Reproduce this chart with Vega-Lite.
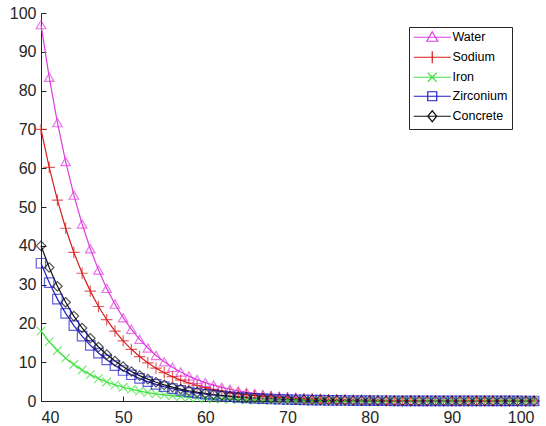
{
"$schema":"https://vega.github.io/schema/vega-lite/v6.json",
"width":493,"height":388,
"autosize":"none",
"padding":{"left":41,"top":13,"right":12,"bottom":25},
"background":"white",
"config":{"view":{"stroke":null},
"axis":{"grid":false,"domainColor":"#262626","tickColor":"#262626","labelColor":"#262626","labelFont":"Liberation Sans","labelFontSize":16,"title":null,"domainWidth":1,"tickWidth":1}},
"data":{"values":[
{"x":40,"m":"Water","y":97},{"x":41,"m":"Water","y":83.42},{"x":42,"m":"Water","y":71.74},{"x":43,"m":"Water","y":61.7},{"x":44,"m":"Water","y":53.06},{"x":45,"m":"Water","y":45.63},{"x":46,"m":"Water","y":39.24},{"x":47,"m":"Water","y":33.75},{"x":48,"m":"Water","y":29.02},{"x":49,"m":"Water","y":24.96},{"x":50,"m":"Water","y":21.47},{"x":51,"m":"Water","y":18.46},{"x":52,"m":"Water","y":15.88},{"x":53,"m":"Water","y":13.65},{"x":54,"m":"Water","y":11.74},{"x":55,"m":"Water","y":10.1},{"x":56,"m":"Water","y":8.68},{"x":57,"m":"Water","y":7.47},{"x":58,"m":"Water","y":6.42},{"x":59,"m":"Water","y":5.52},{"x":60,"m":"Water","y":4.75},{"x":61,"m":"Water","y":4.09},{"x":62,"m":"Water","y":3.51},{"x":63,"m":"Water","y":3.02},{"x":64,"m":"Water","y":2.6},{"x":65,"m":"Water","y":2.23},{"x":66,"m":"Water","y":1.92},{"x":67,"m":"Water","y":1.65},{"x":68,"m":"Water","y":1.42},{"x":69,"m":"Water","y":1.22},{"x":70,"m":"Water","y":1.05},{"x":71,"m":"Water","y":0.9},{"x":72,"m":"Water","y":0.78},{"x":73,"m":"Water","y":0.67},{"x":74,"m":"Water","y":0.58},{"x":75,"m":"Water","y":0.49},{"x":76,"m":"Water","y":0.43},{"x":77,"m":"Water","y":0.37},{"x":78,"m":"Water","y":0.31},{"x":79,"m":"Water","y":0.27},{"x":80,"m":"Water","y":0.23},{"x":81,"m":"Water","y":0.2},{"x":82,"m":"Water","y":0.17},{"x":83,"m":"Water","y":0.15},{"x":84,"m":"Water","y":0.13},{"x":85,"m":"Water","y":0.11},{"x":86,"m":"Water","y":0.09},{"x":87,"m":"Water","y":0.08},{"x":88,"m":"Water","y":0.07},{"x":89,"m":"Water","y":0.06},{"x":90,"m":"Water","y":0.05},{"x":91,"m":"Water","y":0.04},{"x":92,"m":"Water","y":0.04},{"x":93,"m":"Water","y":0.03},{"x":94,"m":"Water","y":0.03},{"x":95,"m":"Water","y":0.02},{"x":96,"m":"Water","y":0.02},{"x":97,"m":"Water","y":0.02},{"x":98,"m":"Water","y":0.01},{"x":99,"m":"Water","y":0.01},{"x":100,"m":"Water","y":0.01},
{"x":40,"m":"Sodium","y":70},{"x":41,"m":"Sodium","y":60.2},{"x":42,"m":"Sodium","y":51.77},{"x":43,"m":"Sodium","y":44.52},{"x":44,"m":"Sodium","y":38.29},{"x":45,"m":"Sodium","y":32.93},{"x":46,"m":"Sodium","y":28.32},{"x":47,"m":"Sodium","y":24.35},{"x":48,"m":"Sodium","y":20.95},{"x":49,"m":"Sodium","y":18.01},{"x":50,"m":"Sodium","y":15.49},{"x":51,"m":"Sodium","y":13.32},{"x":52,"m":"Sodium","y":11.46},{"x":53,"m":"Sodium","y":9.85},{"x":54,"m":"Sodium","y":8.47},{"x":55,"m":"Sodium","y":7.29},{"x":56,"m":"Sodium","y":6.27},{"x":57,"m":"Sodium","y":5.39},{"x":58,"m":"Sodium","y":4.64},{"x":59,"m":"Sodium","y":3.99},{"x":60,"m":"Sodium","y":3.43},{"x":61,"m":"Sodium","y":2.95},{"x":62,"m":"Sodium","y":2.54},{"x":63,"m":"Sodium","y":2.18},{"x":64,"m":"Sodium","y":1.88},{"x":65,"m":"Sodium","y":1.61},{"x":66,"m":"Sodium","y":1.39},{"x":67,"m":"Sodium","y":1.19},{"x":68,"m":"Sodium","y":1.03},{"x":69,"m":"Sodium","y":0.88},{"x":70,"m":"Sodium","y":0.76},{"x":71,"m":"Sodium","y":0.65},{"x":72,"m":"Sodium","y":0.56},{"x":73,"m":"Sodium","y":0.48},{"x":74,"m":"Sodium","y":0.41},{"x":75,"m":"Sodium","y":0.36},{"x":76,"m":"Sodium","y":0.31},{"x":77,"m":"Sodium","y":0.26},{"x":78,"m":"Sodium","y":0.23},{"x":79,"m":"Sodium","y":0.2},{"x":80,"m":"Sodium","y":0.17},{"x":81,"m":"Sodium","y":0.14},{"x":82,"m":"Sodium","y":0.12},{"x":83,"m":"Sodium","y":0.11},{"x":84,"m":"Sodium","y":0.09},{"x":85,"m":"Sodium","y":0.08},{"x":86,"m":"Sodium","y":0.07},{"x":87,"m":"Sodium","y":0.06},{"x":88,"m":"Sodium","y":0.05},{"x":89,"m":"Sodium","y":0.04},{"x":90,"m":"Sodium","y":0.04},{"x":91,"m":"Sodium","y":0.03},{"x":92,"m":"Sodium","y":0.03},{"x":93,"m":"Sodium","y":0.02},{"x":94,"m":"Sodium","y":0.02},{"x":95,"m":"Sodium","y":0.02},{"x":96,"m":"Sodium","y":0.01},{"x":97,"m":"Sodium","y":0.01},{"x":98,"m":"Sodium","y":0.01},{"x":99,"m":"Sodium","y":0.01},{"x":100,"m":"Sodium","y":0.01},
{"x":40,"m":"Iron","y":18},{"x":41,"m":"Iron","y":15.3},{"x":42,"m":"Iron","y":13.01},{"x":43,"m":"Iron","y":11.05},{"x":44,"m":"Iron","y":9.4},{"x":45,"m":"Iron","y":7.99},{"x":46,"m":"Iron","y":6.79},{"x":47,"m":"Iron","y":5.77},{"x":48,"m":"Iron","y":4.9},{"x":49,"m":"Iron","y":4.17},{"x":50,"m":"Iron","y":3.54},{"x":51,"m":"Iron","y":3.01},{"x":52,"m":"Iron","y":2.56},{"x":53,"m":"Iron","y":2.18},{"x":54,"m":"Iron","y":1.85},{"x":55,"m":"Iron","y":1.57},{"x":56,"m":"Iron","y":1.34},{"x":57,"m":"Iron","y":1.14},{"x":58,"m":"Iron","y":0.97},{"x":59,"m":"Iron","y":0.82},{"x":60,"m":"Iron","y":0.7},{"x":61,"m":"Iron","y":0.59},{"x":62,"m":"Iron","y":0.5},{"x":63,"m":"Iron","y":0.43},{"x":64,"m":"Iron","y":0.36},{"x":65,"m":"Iron","y":0.31},{"x":66,"m":"Iron","y":0.26},{"x":67,"m":"Iron","y":0.22},{"x":68,"m":"Iron","y":0.19},{"x":69,"m":"Iron","y":0.16},{"x":70,"m":"Iron","y":0.14},{"x":71,"m":"Iron","y":0.12},{"x":72,"m":"Iron","y":0.1},{"x":73,"m":"Iron","y":0.08},{"x":74,"m":"Iron","y":0.07},{"x":75,"m":"Iron","y":0.06},{"x":76,"m":"Iron","y":0.05},{"x":77,"m":"Iron","y":0.04},{"x":78,"m":"Iron","y":0.04},{"x":79,"m":"Iron","y":0.03},{"x":80,"m":"Iron","y":0.03},{"x":81,"m":"Iron","y":0.02},{"x":82,"m":"Iron","y":0.02},{"x":83,"m":"Iron","y":0.02},{"x":84,"m":"Iron","y":0.02},{"x":85,"m":"Iron","y":0.01},{"x":86,"m":"Iron","y":0.01},{"x":87,"m":"Iron","y":0.01},{"x":88,"m":"Iron","y":0.01},{"x":89,"m":"Iron","y":0.01},{"x":90,"m":"Iron","y":0.01},{"x":91,"m":"Iron","y":0.01},{"x":92,"m":"Iron","y":0.01},{"x":93,"m":"Iron","y":0},{"x":94,"m":"Iron","y":0},{"x":95,"m":"Iron","y":0},{"x":96,"m":"Iron","y":0},{"x":97,"m":"Iron","y":0},{"x":98,"m":"Iron","y":0},{"x":99,"m":"Iron","y":0},{"x":100,"m":"Iron","y":0},
{"x":40,"m":"Zirconium","y":35.5},{"x":41,"m":"Zirconium","y":30.53},{"x":42,"m":"Zirconium","y":26.26},{"x":43,"m":"Zirconium","y":22.58},{"x":44,"m":"Zirconium","y":19.42},{"x":45,"m":"Zirconium","y":16.7},{"x":46,"m":"Zirconium","y":14.36},{"x":47,"m":"Zirconium","y":12.35},{"x":48,"m":"Zirconium","y":10.62},{"x":49,"m":"Zirconium","y":9.14},{"x":50,"m":"Zirconium","y":7.86},{"x":51,"m":"Zirconium","y":6.76},{"x":52,"m":"Zirconium","y":5.81},{"x":53,"m":"Zirconium","y":5},{"x":54,"m":"Zirconium","y":4.3},{"x":55,"m":"Zirconium","y":3.7},{"x":56,"m":"Zirconium","y":3.18},{"x":57,"m":"Zirconium","y":2.73},{"x":58,"m":"Zirconium","y":2.35},{"x":59,"m":"Zirconium","y":2.02},{"x":60,"m":"Zirconium","y":1.74},{"x":61,"m":"Zirconium","y":1.5},{"x":62,"m":"Zirconium","y":1.29},{"x":63,"m":"Zirconium","y":1.11},{"x":64,"m":"Zirconium","y":0.95},{"x":65,"m":"Zirconium","y":0.82},{"x":66,"m":"Zirconium","y":0.7},{"x":67,"m":"Zirconium","y":0.6},{"x":68,"m":"Zirconium","y":0.52},{"x":69,"m":"Zirconium","y":0.45},{"x":70,"m":"Zirconium","y":0.38},{"x":71,"m":"Zirconium","y":0.33},{"x":72,"m":"Zirconium","y":0.28},{"x":73,"m":"Zirconium","y":0.24},{"x":74,"m":"Zirconium","y":0.21},{"x":75,"m":"Zirconium","y":0.18},{"x":76,"m":"Zirconium","y":0.16},{"x":77,"m":"Zirconium","y":0.13},{"x":78,"m":"Zirconium","y":0.12},{"x":79,"m":"Zirconium","y":0.1},{"x":80,"m":"Zirconium","y":0.09},{"x":81,"m":"Zirconium","y":0.07},{"x":82,"m":"Zirconium","y":0.06},{"x":83,"m":"Zirconium","y":0.05},{"x":84,"m":"Zirconium","y":0.05},{"x":85,"m":"Zirconium","y":0.04},{"x":86,"m":"Zirconium","y":0.03},{"x":87,"m":"Zirconium","y":0.03},{"x":88,"m":"Zirconium","y":0.03},{"x":89,"m":"Zirconium","y":0.02},{"x":90,"m":"Zirconium","y":0.02},{"x":91,"m":"Zirconium","y":0.02},{"x":92,"m":"Zirconium","y":0.01},{"x":93,"m":"Zirconium","y":0.01},{"x":94,"m":"Zirconium","y":0.01},{"x":95,"m":"Zirconium","y":0.01},{"x":96,"m":"Zirconium","y":0.01},{"x":97,"m":"Zirconium","y":0.01},{"x":98,"m":"Zirconium","y":0.01},{"x":99,"m":"Zirconium","y":0},{"x":100,"m":"Zirconium","y":0},
{"x":40,"m":"Concrete","y":40},{"x":41,"m":"Concrete","y":34.4},{"x":42,"m":"Concrete","y":29.58},{"x":43,"m":"Concrete","y":25.44},{"x":44,"m":"Concrete","y":21.88},{"x":45,"m":"Concrete","y":18.82},{"x":46,"m":"Concrete","y":16.18},{"x":47,"m":"Concrete","y":13.92},{"x":48,"m":"Concrete","y":11.97},{"x":49,"m":"Concrete","y":10.29},{"x":50,"m":"Concrete","y":8.85},{"x":51,"m":"Concrete","y":7.61},{"x":52,"m":"Concrete","y":6.55},{"x":53,"m":"Concrete","y":5.63},{"x":54,"m":"Concrete","y":4.84},{"x":55,"m":"Concrete","y":4.16},{"x":56,"m":"Concrete","y":3.58},{"x":57,"m":"Concrete","y":3.08},{"x":58,"m":"Concrete","y":2.65},{"x":59,"m":"Concrete","y":2.28},{"x":60,"m":"Concrete","y":1.96},{"x":61,"m":"Concrete","y":1.68},{"x":62,"m":"Concrete","y":1.45},{"x":63,"m":"Concrete","y":1.25},{"x":64,"m":"Concrete","y":1.07},{"x":65,"m":"Concrete","y":0.92},{"x":66,"m":"Concrete","y":0.79},{"x":67,"m":"Concrete","y":0.68},{"x":68,"m":"Concrete","y":0.59},{"x":69,"m":"Concrete","y":0.5},{"x":70,"m":"Concrete","y":0.43},{"x":71,"m":"Concrete","y":0.37},{"x":72,"m":"Concrete","y":0.32},{"x":73,"m":"Concrete","y":0.28},{"x":74,"m":"Concrete","y":0.24},{"x":75,"m":"Concrete","y":0.2},{"x":76,"m":"Concrete","y":0.18},{"x":77,"m":"Concrete","y":0.15},{"x":78,"m":"Concrete","y":0.13},{"x":79,"m":"Concrete","y":0.11},{"x":80,"m":"Concrete","y":0.1},{"x":81,"m":"Concrete","y":0.08},{"x":82,"m":"Concrete","y":0.07},{"x":83,"m":"Concrete","y":0.06},{"x":84,"m":"Concrete","y":0.05},{"x":85,"m":"Concrete","y":0.04},{"x":86,"m":"Concrete","y":0.04},{"x":87,"m":"Concrete","y":0.03},{"x":88,"m":"Concrete","y":0.03},{"x":89,"m":"Concrete","y":0.02},{"x":90,"m":"Concrete","y":0.02},{"x":91,"m":"Concrete","y":0.02},{"x":92,"m":"Concrete","y":0.02},{"x":93,"m":"Concrete","y":0.01},{"x":94,"m":"Concrete","y":0.01},{"x":95,"m":"Concrete","y":0.01},{"x":96,"m":"Concrete","y":0.01},{"x":97,"m":"Concrete","y":0.01},{"x":98,"m":"Concrete","y":0.01},{"x":99,"m":"Concrete","y":0.01},{"x":100,"m":"Concrete","y":0.01}
]},
"encoding":{
"x":{"field":"x","type":"quantitative","scale":{"domain":[40,100],"nice":false,"zero":false},"axis":{"values":[40,50,60,70,80,90,100],"tickSize":-5,"labelPadding":13}},
"y":{"field":"y","type":"quantitative","scale":{"domain":[0,100],"nice":false},"axis":{"values":[0,10,20,30,40,50,60,70,80,90,100],"tickSize":-5,"labelPadding":10}}
},
"resolve":{"legend":{"color":"independent","shape":"independent"}},
"layer":[
{"mark":{"type":"line","strokeWidth":1.2},
"encoding":{"color":{"field":"m","type":"nominal","scale":{"domain":["Water","Sodium","Iron","Zirconium","Concrete"],"range":["#e03ce0","#d81c1c","#3ee03e","#1f1fc8","#111111"]},
"legend":{"orient":"none","legendX":368,"legendY":14,"title":null,"strokeColor":"#262626","fillColor":"white","padding":4,"symbolSize":100,"symbolStrokeWidth":1.2,"symbolFillColor":"transparent","labelFont":"Liberation Sans","labelFontSize":12.5,"labelColor":"#000","rowPadding":4,"symbolOffset":13,"labelOffset":14,
"encode":{"symbols":{"update":{"shape":{"signal":"datum.value==='Water'?'M-3.7,0H3.7M0,-1.1L1.1,0.8L-1.1,0.8Z':datum.value==='Sodium'?'M-3.7,0H3.7M0,-1.2V1.2':datum.value==='Iron'?'M-3.7,0H3.7M-0.9,-0.9L0.9,0.9M-0.9,0.9L0.9,-0.9':datum.value==='Zirconium'?'M-3.7,0H3.7M-0.9,-0.9H0.9V0.9H-0.9Z':'M-3.7,0H3.7M0,-1.1L0.9,0L0,1.1L-0.9,0Z'"},"fill":{"value":"transparent"}}}}}}}},
{"mark":{"type":"point","filled":false,"strokeWidth":1.2,"size":90},
"encoding":{
"shape":{"field":"m","type":"nominal","scale":{"domain":["Water","Sodium","Iron","Zirconium","Concrete"],"range":["triangle-up","M-1.2,0H1.2M0,-1.2V1.2","M-0.9,-0.9L0.9,0.9M-0.9,0.9L0.9,-0.9","square","diamond"]},"legend":null},
"color":{"field":"m","type":"nominal","scale":{"domain":["Water","Sodium","Iron","Zirconium","Concrete"],"range":["#e03ce0","#d81c1c","#3ee03e","#1f1fc8","#111111"]},"legend":null}
}}
]
}
